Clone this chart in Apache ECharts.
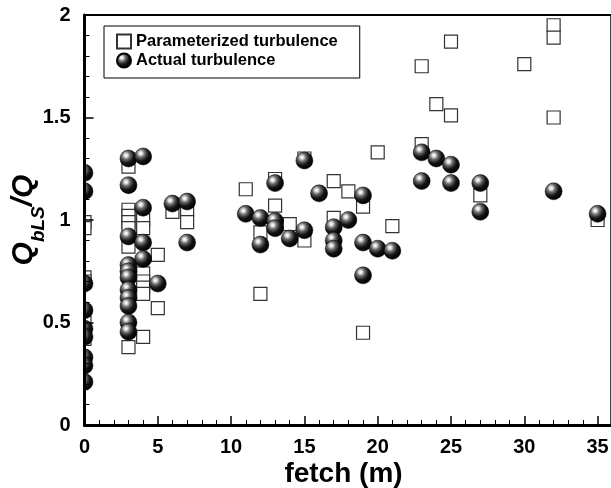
<!DOCTYPE html>
<html>
<head>
<meta charset="utf-8">
<script src="https://cdn.jsdelivr.net/npm/echarts@6/dist/echarts.min.js"></script>
<style>
html,body{margin:0;padding:0;background:#fff;}
#chart{width:611px;height:488px;}
</style>
</head>
<body>
<div id="chart"></div>
<script>
// ---- data ----
var paramFetch = [0,0,0,0,0,0,0, 3,3,3,3,3,3,3, 4,4,4,4,4,4,4, 5,5, 6, 7,7, 11, 12,12, 13,13, 14, 15,15, 17,17, 18, 19,19, 20, 21, 23,23, 24, 25,25, 27, 30, 32,32,32, 35];
var paramRatio = [0.99,0.96,0.72,0.70,0.50,0.45,0.42, 1.26,1.05,1.02,0.99,0.96,0.87,0.38, 1.00,0.96,0.74,0.70,0.67,0.64,0.43, 0.83,0.57, 1.04, 1.05,0.99, 1.15, 0.94,0.64, 1.20,1.07, 0.98, 1.30,0.90, 1.19,1.01, 1.14, 1.065,0.45, 1.33, 0.97, 1.75,1.37, 1.565, 1.87,1.51, 1.12, 1.76, 1.95,1.89,1.50, 1.00];

var actualFetch = [0,0,0,0,0,0,0,0,0, 3,3,3,3,3,3,3,3,3,3,3, 4,4,4,4, 5, 6, 7,7, 11, 12,12, 13,13,13, 14, 15,15, 16, 17,17,17, 18, 19,19,19, 20, 21, 23,23, 24, 25,25, 27,27, 32, 35];
var actualRatio = [1.23,1.14,0.69,0.56,0.47,0.43,0.33,0.29,0.21, 1.30,1.17,0.92,0.78,0.75,0.72,0.66,0.62,0.58,0.50,0.455, 1.31,1.06,0.89,0.81, 0.69, 1.08, 1.09,0.89, 1.03, 1.01,0.88, 1.18,0.995,0.96, 0.91, 1.29,0.95, 1.13, 0.965,0.90,0.86, 1.00, 1.12,0.89,0.73, 0.86, 0.85, 1.33,1.19, 1.30, 1.27,1.18, 1.18,1.04, 1.14, 1.03];

var xTickValues = [0,5,10,15,20,25,30,35];
var yTickValues = [0,0.5,1,1.5,2];
var seriesNames = ['Parameterized turbulence','Actual turbulence'];
var xTitle = 'fetch (m)';

function zip(a,b){ var r=[]; for(var i=0;i<a.length;i++) r.push([a[i],b[i]]); return r; }

var FONT = '"Liberation Sans", Arial, Helvetica, sans-serif';
var ball = {
  type:'radial', x:0.36, y:0.32, r:0.68,
  colorStops:[
    {offset:0, color:'#ffffff'},
    {offset:0.12, color:'#e8e8e8'},
    {offset:0.35, color:'#6a6a6a'},
    {offset:0.65, color:'#151515'},
    {offset:1, color:'#000000'}
  ]
};

var unit = 14.66;
var gridLeft = 84.5;
var gridTop = 15, gridH = 410;
var chart = echarts.init(document.getElementById('chart'), null, {renderer:'canvas'});
chart.setOption({
  animation:false,
  backgroundColor:'#fff',
  grid:{left:gridLeft, top:gridTop, width:40*unit, height:gridH, outerBoundsMode:'none', containLabel:false},
  xAxis:[{
    type:'value', min:0, max:40, interval:5, position:'bottom', z:10,
    axisLine:{show:true, onZero:false, lineStyle:{color:'#000', width:3}},
    axisTick:{show:true, inside:true, length:9, lineStyle:{color:'#000', width:1.5}},
    minorTick:{show:true, splitNumber:5, length:5, lineStyle:{color:'#000', width:1}},
    splitLine:{show:false},
    axisLabel:{
      margin:12, color:'#000', fontSize:20, fontWeight:'bold', fontFamily:FONT,
      formatter:function(v){ return xTickValues.indexOf(v)>=0 ? String(v) : ''; }
    }
  },{
    type:'value', min:0, max:40, position:'top', z:10,
    axisLine:{show:true, onZero:false, lineStyle:{color:'#000', width:2}},
    axisTick:{show:false}, axisLabel:{show:false}, splitLine:{show:false}
  }],
  yAxis:[{
    type:'value', min:0, max:2, interval:0.5, position:'left', z:10,
    axisLine:{show:true, onZero:false, lineStyle:{color:'#000', width:3}},
    axisTick:{show:true, inside:true, length:9, lineStyle:{color:'#000', width:1.5}},
    minorTick:{show:true, splitNumber:5, length:5, lineStyle:{color:'#000', width:1}},
    splitLine:{show:false},
    axisLabel:{
      margin:14, color:'#000', fontSize:20, fontWeight:'bold', fontFamily:FONT,
      formatter:function(v){ return yTickValues.indexOf(v)>=0 ? String(v) : ''; }
    },
    name:'{q|Q}{s|bLS}{q|/Q}',
    nameLocation:'middle', nameRotate:90, nameGap:46, nameMoveOverlap:false,
    nameTextStyle:{
      rich:{
        q:{fontSize:30, fontWeight:'bold', fontStyle:'italic', fontFamily:FONT, color:'#000', lineHeight:34, verticalAlign:'bottom'},
        s:{fontSize:19, fontWeight:'bold', fontStyle:'italic', fontFamily:FONT, color:'#000', lineHeight:34, verticalAlign:'bottom', padding:[0,0,-10,0]}
      }
    }
  },{
    type:'value', min:0, max:2, position:'right', offset:-(gridLeft+40*unit-610.5), z:10,
    axisLine:{show:true, onZero:false, lineStyle:{color:'#444', width:1}},
    axisTick:{show:false}, axisLabel:{show:false}, splitLine:{show:false}
  }],
  legend:{
    data:seriesNames, orient:'vertical', left:104, top:26,
    padding:[7,22,9,12], itemWidth:14, itemHeight:14, itemGap:2, itemTextGap:10,
    borderColor:'#000', borderWidth:1, backgroundColor:'#fff',
    textStyle:{fontSize:16.5, fontWeight:'bold', color:'#000', fontFamily:FONT}
  },
  graphic:[{
    // white margin outside the plotting frame, so symbols sitting on x = 0 are cut at the axis
    type:'rect', z:5, silent:true,
    shape:{x:0, y:0, width:gridLeft, height:gridTop + gridH + 2},
    style:{fill:'#fff'}
  },{
    type:'text', x:343.5, y:474, z:10,
    style:{text:xTitle, fill:'#000', font:'bold 28px "Liberation Sans", Arial, sans-serif', align:'center', verticalAlign:'middle'}
  }],
  series:[{
    name:seriesNames[0], type:'scatter', symbol:'rect', symbolSize:13, z:2,
    itemStyle:{color:'#fff', borderColor:'#333', borderWidth:1.2, opacity:1},
    emphasis:{disabled:true},
    data:zip(paramFetch, paramRatio)
  },{
    name:seriesNames[1], type:'scatter', symbol:'circle', symbolSize:17, z:3,
    itemStyle:{color:ball, borderColor:'#000', borderWidth:0.5, opacity:1},
    emphasis:{disabled:true},
    data:zip(actualFetch, actualRatio)
  }]
});
</script>
</body>
</html>
